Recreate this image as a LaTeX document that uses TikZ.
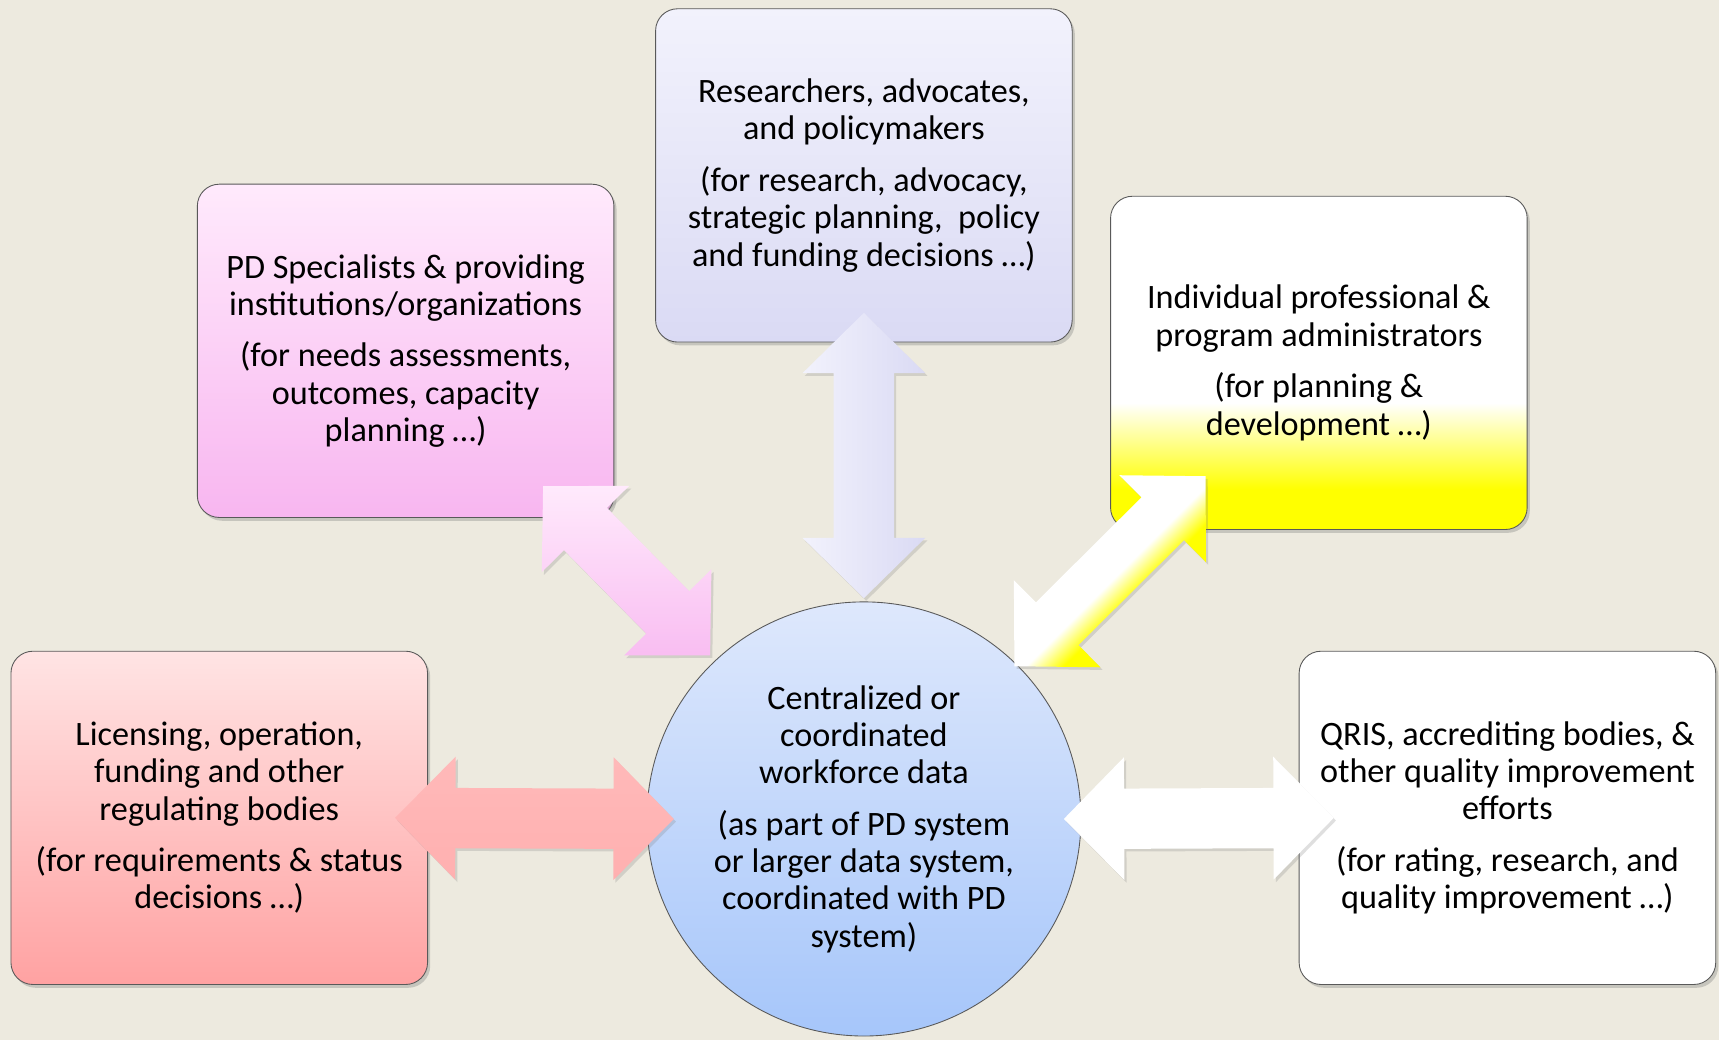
\documentclass[tikz,border=0pt]{standalone}
\usepackage{fontspec}
\setmainfont{Carlito}
\usepackage{tikz}
\usetikzlibrary{calc,shadows}
\definecolor{bgbeige}{RGB}{237,234,223}
\definecolor{lavtop}{RGB}{242,242,252}
\definecolor{lavbot}{RGB}{218,218,244}
\definecolor{pinktop}{RGB}{255,234,252}
\definecolor{pinkbot}{RGB}{248,182,240}
\definecolor{redtop}{RGB}{255,228,228}
\definecolor{redbot}{RGB}{255,162,162}
\definecolor{bluetop}{RGB}{222,232,252}
\definecolor{bluebot}{RGB}{166,198,250}
\definecolor{yelbot}{RGB}{255,255,0}
\pgfdeclareverticalshading{white_yellow}{100bp}{color(0bp)=(yelbot); color(31bp)=(yelbot); color(44bp)=(white); color(100bp)=(white)}
\pgfdeclareverticalshading{yellow_edge}{100bp}{color(0bp)=(yelbot); color(41bp)=(yelbot); color(48bp)=(white); color(100bp)=(white)}
% double block arrow between two named points
\newcommand{\fatarrow}[3]{%
  \path[fat_arrow,#1] (#2)
    -- ($(#2)!27.5pt!(#3)!28pt!90:(#3)$)
    -- ($(#2)!27.5pt!(#3)!13.75pt!90:(#3)$)
    -- ($(#3)!27.5pt!(#2)!13.75pt!-90:(#2)$)
    -- ($(#3)!27.5pt!(#2)!28pt!-90:(#2)$)
    -- (#3)
    -- ($(#3)!27.5pt!(#2)!28pt!90:(#2)$)
    -- ($(#3)!27.5pt!(#2)!13.75pt!90:(#2)$)
    -- ($(#2)!27.5pt!(#3)!13.75pt!-90:(#3)$)
    -- ($(#2)!27.5pt!(#3)!28pt!-90:(#3)$)
    -- cycle;}

\begin{document}
\begin{tikzpicture}[x=0.5pt, y=-0.5pt,
    box_base/.style ={rectangle, rounded corners=10pt, draw=black!65, thin,
      minimum width=190pt, minimum height=152pt, align=center,
      font=\fontsize{15.6pt}{17pt}\selectfont,
      drop shadow={shadow xshift=1.2pt, shadow yshift=-1.5pt, opacity=0.35}},
    box_res/.style ={box_base, top color=lavtop, bottom color=lavbot},
    box_pd/.style ={box_base, top color=pinktop, bottom color=pinkbot},
    box_ind/.style ={box_base, shading=white_yellow},
    box_lic/.style ={box_base, top color=redtop, bottom color=redbot},
    box_qris/.style ={box_base, fill=white},
    hub_circle/.style ={circle, draw=black!65, thin, minimum size=198pt,
      inner sep=0pt, align=center, top color=bluetop, bottom color=bluebot,
      font=\fontsize{15.6pt}{17pt}\selectfont},
    fat_arrow/.style ={draw=none,
      drop shadow={shadow xshift=1pt, shadow yshift=-1.2pt, opacity=0.25}}]
    % page and background
    \fill[bgbeige] (0,0) rectangle (1568,949);
    \useasboundingbox (0,0) rectangle (1568,949);
    % the boxes round the data hub
    \node [box_res] (res) at (788,160) {Researchers, advocates,\\ and policymakers\\[6.5pt]
      (for research, advocacy,\\ strategic planning,\ \ policy\\ and funding decisions …)};
    \node [box_pd] (pd) at (370,320) {PD Specialists \& providing\\ institutions/organizations\\[6.5pt]
      (for needs assessments,\\ outcomes, capacity\\ planning …)};
    \node [box_ind] (ind) at (1203,331) {Individual professional \&\\ program administrators\\[6.5pt]
      (for planning \&\\ development …)};
    \node [box_lic] (lic) at (200,746) {Licensing, operation,\\ funding and other\\ regulating bodies\\[6.5pt]
      (for requirements \& status\\ decisions …)};
    \node [box_qris] (qris) at (1375,746) {QRIS, accrediting bodies, \&\\ other quality improvement\\ efforts\\[6.5pt]
      (for rating, research, and\\ quality improvement …)};
    \node [hub_circle] (hub) at (788,747) {Centralized or\\ coordinated\\ workforce data\\[6.5pt]
      (as part of PD system\\ or larger data system,\\ coordinated with PD\\ system)};
    % arrow ends
    \coordinate (res_end) at ($(res.south)+(0,-27)$);
    \coordinate (hub_n) at ($(hub.north)+(0,-3)$);
    \coordinate (pd_end) at ($(pd.south east)+(-65,-29)$);
    \coordinate (hub_nw) at ($(hub.135)+(0,-9)$);
    \coordinate (ind_end) at ($(ind.south west)+(87,-49)$);
    \coordinate (hub_ne) at ($(hub.45)+(-3,1)$);
    \coordinate (lic_end) at ($(lic.east)+(-30,0)$);
    \coordinate (hub_w) at ($(hub.west)+(25,0)$);
    \coordinate (hub_e) at ($(hub.east)+(-16,0)$);
    \coordinate (qris_end) at ($(qris.west)+(32,0)$);
    % connecting the boxes with the hub
    \begin{scope}
      \fatarrow{left color=lavtop, right color=lavbot}{res_end}{hub_n}
      \fatarrow{top color=pinktop, bottom color=pinkbot!90!white}{pd_end}{hub_nw}
      \fatarrow{shading=yellow_edge, shading angle=45}{ind_end}{hub_ne}
      \fatarrow{top color=redbot!75!white, middle color=redtop!80!redbot, bottom color=redbot!85!white}{lic_end}{hub_w}
      \fatarrow{fill=white}{hub_e}{qris_end}
    \end{scope}
\end{tikzpicture}
\end{document}
